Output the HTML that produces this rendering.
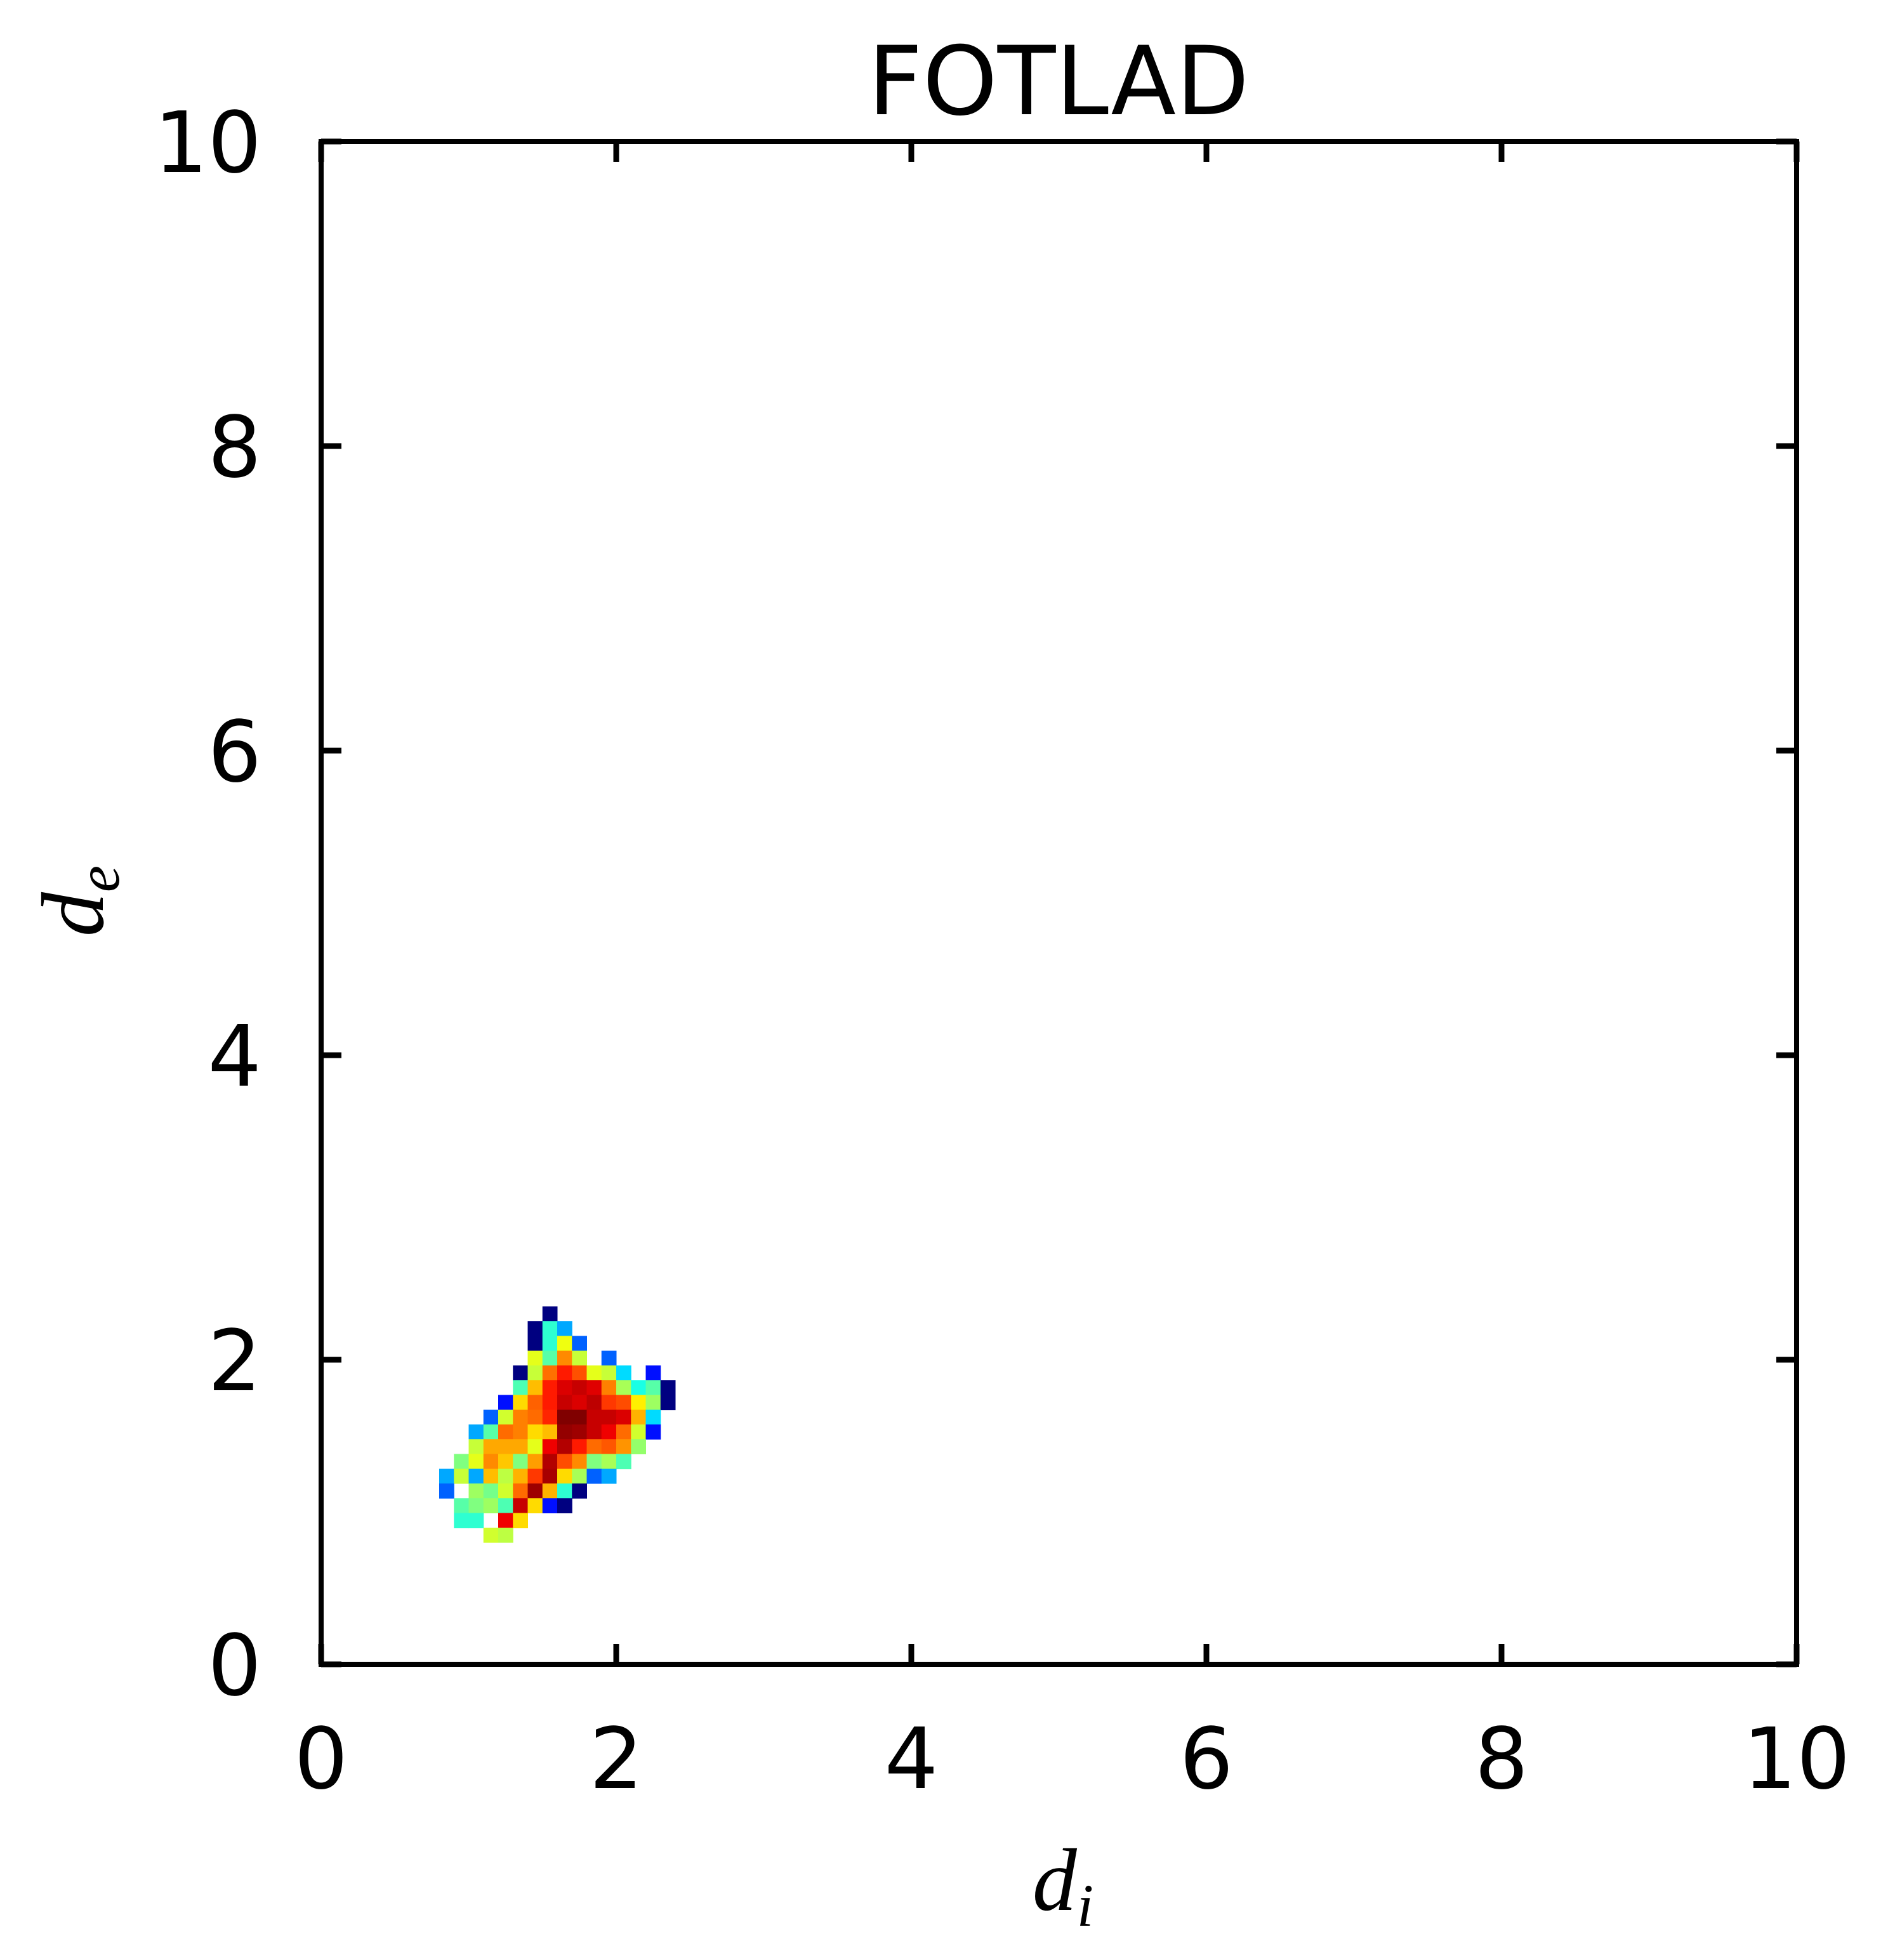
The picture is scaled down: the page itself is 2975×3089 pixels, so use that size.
<!DOCTYPE html>
<html><head><meta charset="utf-8"><style>
html,body{margin:0;padding:0;background:#fff;}
svg{display:block;}
</style></head><body>
<svg id="chart" width="2975" height="3089" viewBox="0 0 2975 3089" xmlns="http://www.w3.org/2000/svg" font-family="'DejaVu Sans','Liberation Sans',sans-serif">
<rect width="2975" height="3089" fill="#fff"/>
<text x="1668" y="180" font-size="150" text-anchor="middle">FOTLAD</text>
<g id="cells"></g>
<g id="axes"></g>
<text x="1675" y="3010" font-size="140" font-style="italic" font-family="'Liberation Serif','DejaVu Serif',serif" text-anchor="middle">d<tspan font-size="95" dy="25">i</tspan></text>
<text transform="translate(162,1420) rotate(-90)" font-size="140" font-style="italic" font-family="'Liberation Serif','DejaVu Serif',serif" text-anchor="middle">d<tspan font-size="95" dy="25">e</tspan></text>
</svg>
<script>
const xTicks = [0, 2, 4, 6, 8, 10];
const yTicks = [0, 2, 4, 6, 8, 10];
const binX0 = 0.80, binDX = 0.1;
const binY0 = 0.80, binDY = 0.0969;
// rows from top (highest d_e) to bottom; values 0..1 in jet colormap; null = empty
const gridValues = [
[null,null,null,null,null,null,null,0.0,null,null,null,null,null,null,null,null],
[null,null,null,null,null,null,0.0,0.42,0.29,null,null,null,null,null,null,null],
[null,null,null,null,null,null,0.0,0.42,0.61,0.22,null,null,null,null,null,null],
[null,null,null,null,null,null,0.6,0.46,0.74,0.57,null,0.22,null,null,null,null],
[null,null,null,null,null,0.0,0.57,0.765,0.85,0.797,0.6,0.57,0.34,null,0.14,null],
[null,null,null,null,null,0.45,0.69,0.85,0.91,0.93,0.905,0.75,0.54,0.4,0.46,0.0],
[null,null,null,null,0.14,0.66,0.78,0.85,0.93,0.91,0.94,0.82,0.8,0.64,0.53,0.0],
[null,null,null,0.22,0.58,0.75,0.77,0.84,1.0,1.0,0.93,0.93,0.91,0.7,0.34,null],
[null,null,0.29,0.46,0.77,0.75,0.66,0.69,0.98,0.97,0.93,0.89,0.77,0.58,0.14,null],
[null,null,0.57,0.71,0.71,0.71,0.6,0.89,0.95,0.85,0.77,0.79,0.73,0.52,null,null],
[null,0.5,0.6,0.74,0.68,0.5,0.72,0.95,0.8,0.74,0.5,0.54,0.45,null,null,null],
[0.29,0.57,0.29,0.69,0.56,0.7,0.82,0.96,0.66,0.54,0.22,0.29,null,null,null,null],
[0.22,null,0.53,0.49,0.58,0.77,0.97,0.7,0.42,0.0,null,null,null,null,null,null],
[null,0.46,0.5,0.53,0.45,0.93,0.66,0.14,0.0,null,null,null,null,null,null,null],
[null,0.42,0.42,null,0.89,0.66,null,null,null,null,null,null,null,null,null,null],
[null,null,null,0.58,0.56,null,null,null,null,null,null,null,null,null,null,null]
];
const L=506,R=2831,T=223,B=2623;
const sx=v=>L+(v-0)/(10-0)*(R-L);
const sy=v=>B-(v-0)/(10-0)*(B-T);
const NS="http://www.w3.org/2000/svg";
function jet(v){const c=x=>Math.round(255*Math.max(0,Math.min(1,x)));
return `rgb(${c(1.5-Math.abs(4*v-3))},${c(1.5-Math.abs(4*v-2))},${c(1.5-Math.abs(4*v-1))})`;}
const cells=document.getElementById('cells');
const nRows=gridValues.length;
gridValues.forEach((row,ri)=>{row.forEach((v,ci)=>{
 if(v===null)return;
 const yb=binY0+(nRows-1-ri)*binDY;
 const xl=binX0+ci*binDX;
 const r=document.createElementNS(NS,'rect');
 
 
 const x1=sx(xl),x2=sx(xl+binDX),y1=sy(yb+binDY),y2=sy(yb);
 r.setAttribute('x',x1);r.setAttribute('y',y1);
 r.setAttribute('width',x2-x1+0.5);r.setAttribute('height',y2-y1+0.5);
 r.setAttribute('fill',jet(v));
 cells.appendChild(r);
});});
const axes=document.getElementById('axes');
function add(tag,attrs,name){const e=document.createElementNS(NS,tag);for(const k in attrs)e.setAttribute(k,attrs[k]);
 
 
 axes.appendChild(e);return e;}
add('rect',{x:L,y:T,width:R-L,height:B-T,fill:'none',stroke:'#000','stroke-width':8},'plot-frame');
xTicks.forEach(t=>{const x=sx(t);
 add('line',{x1:x,x2:x,y1:B,y2:B-32,stroke:'#000','stroke-width':9},'x-tick');
 add('line',{x1:x,x2:x,y1:T,y2:T+32,stroke:'#000','stroke-width':9},'x-tick-top');
 const tx=add('text',{x:x,y:2818,'font-size':133,'text-anchor':'middle'},'x-tick-label');tx.textContent=t;});
yTicks.forEach(t=>{const y=sy(t);
 add('line',{x1:L,x2:L+32,y1:y,y2:y,stroke:'#000','stroke-width':9},'y-tick');
 add('line',{x1:R,x2:R-32,y1:y,y2:y,stroke:'#000','stroke-width':9},'y-tick-right');
 const tx=add('text',{x:412,y:y+48,'font-size':133,'text-anchor':'end'},'y-tick-label');tx.textContent=t;});
</script>
</body></html>
